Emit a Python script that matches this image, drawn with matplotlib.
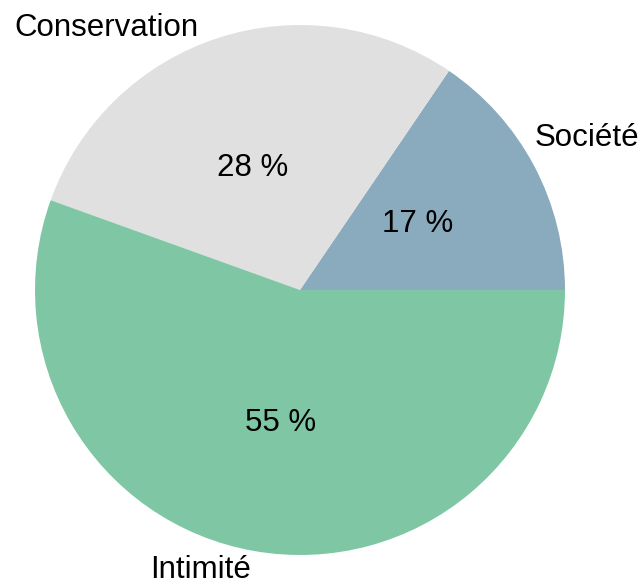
import matplotlib
matplotlib.use("Agg")
import matplotlib.pyplot as plt

categories = ["Société", "Conservation", "Intimité"]
sizes = [15.5, 29.0, 55.5]
pct_labels = ["17 %", "28 %", "55 %"]
colors = ["#8AABBD", "#E0E0E0", "#7FC6A4"]

# label anchor positions (x centre, baseline y) in pie-radius units
cat_pos = [(1.083, 0.543), (-0.732, 0.958), (-0.374, -1.088)]
pct_pos = [(0.445, 0.219), (-0.177, 0.430), (-0.075, -0.532)]

plt.rcParams['font.family'] = ['Liberation Sans', 'DejaVu Sans']

fig = plt.figure(figsize=(6.41, 5.86), dpi=100)
ax = fig.add_axes([35/641, 31/586, 530/641, 530/586])
wedges, _ = ax.pie(sizes, colors=colors, startangle=0, counterclock=True)
for (x, y), lab in zip(cat_pos, categories):
    ax.text(x, y, lab, ha='center', va='baseline', fontsize=22.5, color='black',
            clip_on=False)
for (x, y), lab in zip(pct_pos, pct_labels):
    ax.text(x, y, lab, ha='center', va='baseline', fontsize=22.5, color='black')
ax.set_xlim(-1, 1)
ax.set_ylim(-1, 1)
ax.set_aspect('auto')
ax.axis('off')
fig.savefig("out.png", dpi=100)
